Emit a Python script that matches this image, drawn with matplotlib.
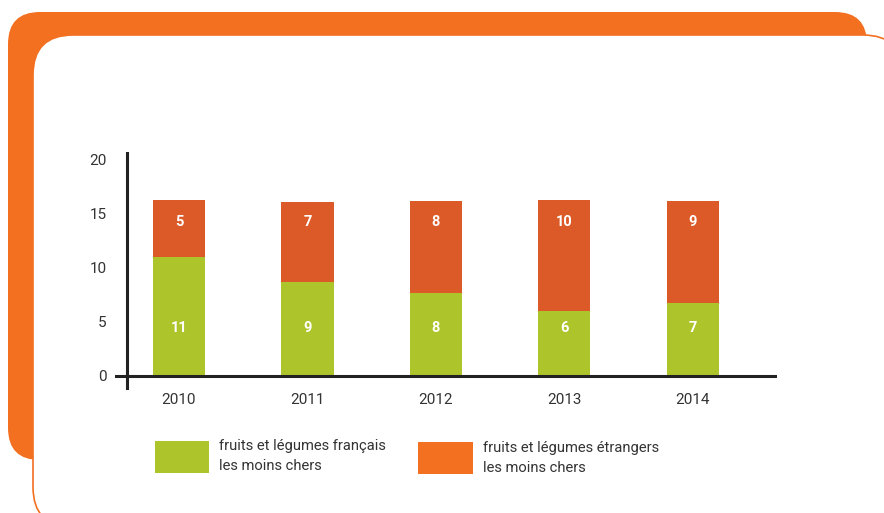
import matplotlib
matplotlib.use("Agg")
import matplotlib.pyplot as plt
from matplotlib.patches import FancyBboxPatch, Rectangle

years = ["2010", "2011", "2012", "2013", "2014"]
french_heights = [11.0, 8.7, 7.7, 6.0, 6.8]
foreign_heights = [5.3, 7.4, 8.5, 10.3, 9.4]
french_labels = ["11", "9", "8", "6", "7"]
foreign_labels = ["5", "7", "8", "10", "9"]
yticks = [0, 5, 10, 15, 20]
legend_labels = ["fruits et légumes français\nles moins chers",
                 "fruits et légumes étrangers\nles moins chers"]

GREEN = "#ADC42B"
BAR_ORANGE = "#DC5A27"
ORANGE = "#F37021"
TEXT = "#333333"
FONT = ["Roboto", "DejaVu Sans"]
plt.rcParams["font.family"] = FONT

W, H = 884, 513
fig = plt.figure(figsize=(W / 100, H / 100), dpi=100)

# background decoration in pixel coordinates
bg = fig.add_axes([0, 0, 1, 1], zorder=-1)
bg.set_xlim(0, W)
bg.set_ylim(H, 0)
bg.axis("off")
bg.add_patch(FancyBboxPatch((8, 12), 859, 448,
                            boxstyle="round,pad=0,rounding_size=32",
                            facecolor=ORANGE, edgecolor="none"))
bg.add_patch(FancyBboxPatch((33, 35), 870, 492,
                            boxstyle="round,pad=0,rounding_size=40",
                            facecolor="white", edgecolor=ORANGE, linewidth=1.2))

# legend swatches + text (pixel coords)
bg.add_patch(Rectangle((155, 441), 54, 32, facecolor=GREEN, edgecolor="none"))
bg.add_patch(Rectangle((418, 442), 55, 32, facecolor=ORANGE, edgecolor="none"))
bg.text(219, 456, legend_labels[0], fontsize=10.6, color=TEXT, va="center",
        ha="left", linespacing=1.6)
bg.text(483, 458, legend_labels[1], fontsize=10.6, color=TEXT, va="center",
        ha="left", linespacing=1.6)

# chart axes
left_px, right_px = 115, 777
top_px, bot_px = 152, 390
ax = fig.add_axes([left_px / W, (H - bot_px) / H,
                   (right_px - left_px) / W, (bot_px - top_px) / H])
ax.patch.set_alpha(0)
x = list(range(len(years)))
ax.bar(x, french_heights, width=0.405, color=GREEN, zorder=2)
ax.bar(x, foreign_heights, width=0.405, bottom=french_heights,
       color=BAR_ORANGE, zorder=2)
for xi, gl, ol in zip(x, french_labels, foreign_labels):
    ax.text(xi, 4.4, gl, color="white", fontsize=10.5, fontweight="bold",
            ha="center", va="center", zorder=3)
    ax.text(xi, 14.3, ol, color="white", fontsize=10.5, fontweight="bold",
            ha="center", va="center", zorder=3)

ax.set_xlim(-0.498, 4.654)
ax.set_ylim(-1.3, 20.74)
for s in ax.spines.values():
    s.set_visible(False)
ax.axhline(0, color="#222222", linewidth=2.2, zorder=4)
ax.axvline(-0.405, ymin=0, ymax=1, color="#222222", linewidth=2.2, zorder=4)
ax.set_yticks(yticks)
ax.set_yticklabels([str(v) for v in yticks])
ax.set_xticks(x)
ax.set_xticklabels(years)
ax.tick_params(axis="both", length=0, labelsize=11, colors=TEXT)
ax.tick_params(axis="y", pad=6)
ax.tick_params(axis="x", pad=2)

fig.savefig("out.png", dpi=100)
